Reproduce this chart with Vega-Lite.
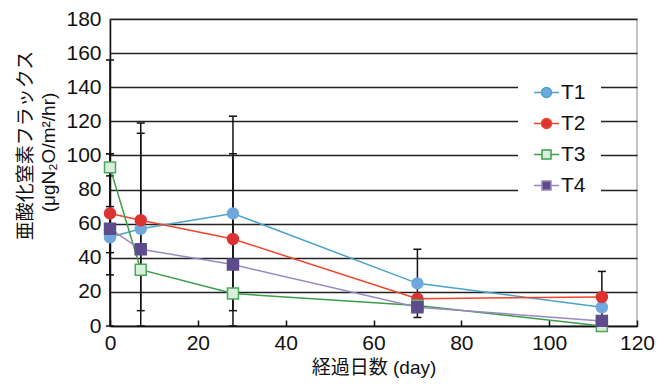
{
  "$schema": "https://vega.github.io/schema/vega-lite/v6.json",
  "width": 527,
  "height": 307,
  "autosize": {"type": "none"},
  "padding": {"left": 110, "top": 19, "right": 24, "bottom": 59},
  "background": "white",
  "title": {
    "text": "亜酸化窒素フラックス",
    "orient": "left",
    "anchor": "middle",
    "font": "Noto Sans CJK JP",
    "fontSize": 19,
    "fontWeight": "normal",
    "color": "#111",
    "offset": 3,
    "dx": 27,
    "frame": "group"
  },
  "config": {
    "view": {"stroke": "#b0b0b0", "strokeWidth": 1.5},
    "font": "Liberation Sans, Noto Sans CJK JP",
    "axis": {
      "labelFont": "Liberation Sans",
      "labelFontSize": 21,
      "labelColor": "#111",
      "labelOverlap": false,
      "titleFont": "Liberation Sans, Noto Sans CJK JP",
      "titleFontSize": 19,
      "titleFontWeight": "normal",
      "titleColor": "#111",
      "domainColor": "#111",
      "domainWidth": 1.5,
      "tickColor": "#111"
    },
    "axisY": {
      "ticks": false,
      "labelPadding": 9,
      "grid": true,
      "gridColor": "#222",
      "gridWidth": 1.5,
      "titleAngle": -90,
      "titleBaseline": "middle",
      "titleAlign": "center",
      "titleX": -62,
      "titleY": 133
    },
    "axisX": {
      "grid": false,
      "tickSize": -6,
      "tickWidth": 1.5,
      "labelPadding": 12,
      "titlePadding": 5,
      "labelFlush": false
    }
  },
  "data": {
    "values": [
      {"series": "T1", "day": 0, "value": 52, "lo": 0, "hi": 101},
      {"series": "T1", "day": 7, "value": 57, "lo": 0, "hi": 113},
      {"series": "T1", "day": 28, "value": 66, "lo": 9, "hi": 123},
      {"series": "T1", "day": 70, "value": 25, "lo": 5, "hi": 45},
      {"series": "T1", "day": 112, "value": 11, "lo": null, "hi": null},
      {"series": "T2", "day": 0, "value": 66, "lo": 30, "hi": 156},
      {"series": "T2", "day": 7, "value": 62, "lo": 9, "hi": 119},
      {"series": "T2", "day": 28, "value": 51, "lo": 0, "hi": 101},
      {"series": "T2", "day": 70, "value": 16, "lo": null, "hi": null},
      {"series": "T2", "day": 112, "value": 17, "lo": 2, "hi": 32},
      {"series": "T3", "day": 0, "value": 93, "lo": 88, "hi": 101},
      {"series": "T3", "day": 7, "value": 33, "lo": null, "hi": null},
      {"series": "T3", "day": 28, "value": 19, "lo": null, "hi": null},
      {"series": "T3", "day": 70, "value": 12, "lo": null, "hi": null},
      {"series": "T3", "day": 112, "value": 0, "lo": null, "hi": null},
      {"series": "T4", "day": 0, "value": 57, "lo": 43, "hi": 70},
      {"series": "T4", "day": 7, "value": 45, "lo": null, "hi": null},
      {"series": "T4", "day": 28, "value": 36, "lo": null, "hi": null},
      {"series": "T4", "day": 70, "value": 11, "lo": null, "hi": null},
      {"series": "T4", "day": 112, "value": 3, "lo": null, "hi": null}
    ]
  },
  "encoding": {
    "x": {
      "field": "day",
      "type": "quantitative",
      "scale": {"domain": [0, 120], "nice": false, "zero": false},
      "axis": {"title": "経過日数 (day)", "values": [0, 20, 40, 60, 80, 100, 120]}
    }
  },
  "layer": [
    {
      "transform": [{"filter": "isValid(datum.lo)"}],
      "mark": {"type": "rule", "color": "#111", "strokeWidth": 1.5},
      "encoding": {
        "y": {
          "field": "lo",
          "type": "quantitative",
          "scale": {"domain": [0, 180], "nice": false},
          "axis": {"title": "(μgN₂O/m²/hr)", "values": [0, 20, 40, 60, 80, 100, 120, 140, 160, 180]}
        },
        "y2": {"field": "hi"}
      }
    },
    {
      "transform": [{"filter": "isValid(datum.lo)"}],
      "mark": {"type": "tick", "orient": "horizontal", "color": "#111", "size": 8, "thickness": 1.5, "opacity": 1},
      "encoding": {
        "y": {"field": "lo", "type": "quantitative", "scale": {"domain": [0, 180], "nice": false}, "axis": {"title": "(μgN₂O/m²/hr)", "values": [0, 20, 40, 60, 80, 100, 120, 140, 160, 180]}}
      }
    },
    {
      "transform": [{"filter": "isValid(datum.lo)"}],
      "mark": {"type": "tick", "orient": "horizontal", "color": "#111", "size": 8, "thickness": 1.5, "opacity": 1},
      "encoding": {
        "y": {"field": "hi", "type": "quantitative", "scale": {"domain": [0, 180], "nice": false}, "axis": {"title": "(μgN₂O/m²/hr)", "values": [0, 20, 40, 60, 80, 100, 120, 140, 160, 180]}}
      }
    },
    {
      "mark": {"type": "line", "strokeWidth": 1.5},
      "encoding": {
        "y": {"field": "value", "type": "quantitative", "scale": {"domain": [0, 180], "nice": false}, "axis": {"title": "(μgN₂O/m²/hr)", "values": [0, 20, 40, 60, 80, 100, 120, 140, 160, 180]}},
        "color": {
          "field": "series",
          "type": "nominal",
          "scale": {"domain": ["T1", "T2", "T3", "T4"], "range": ["#4aa3c9", "#f0452a", "#3a9e48", "#9a88c4"]},
          "legend": {
            "orient": "none",
            "legendX": 408,
            "legendY": 45,
            "title": null,
            "fillColor": "white",
            "padding": 15,
            "labelFont": "Liberation Sans",
            "labelFontSize": 21,
            "labelColor": "#111",
            "symbolSize": 625,
            "symbolStrokeWidth": 1.5,
            "rowPadding": 7,
            "labelOffset": 1,
            "encode": {
              "symbols": {
                "update": {
                  "shape": {"signal": "indexof(['T1','T2'], datum.value) >= 0 ? 'M-1,0H-0.4M0.4,0H1M-0.4,0A0.4,0.4,0,1,1,0.4,0A0.4,0.4,0,1,1,-0.4,0Z' : 'M-1,0H-0.36M0.36,0H1M-0.36,-0.36H0.36V0.36H-0.36Z'"},
                  "fill": {"signal": "{'T1':'#6fa8dc','T2':'#dc3232','T3':'#d9eedb','T4':'#5e4b8b'}[datum.value]"},
                  "stroke": {"signal": "{'T1':'#6fa8dc','T2':'#f0452a','T3':'#3a9e48','T4':'#9a88c4'}[datum.value]"},
                  "strokeWidth": {"value": 1.5},
                  "opacity": {"value": 1}
                }
              }
            }
          }
        }
      }
    },
    {
      "transform": [{"filter": "datum.series == 'T1' || datum.series == 'T2'"}],
      "mark": {"type": "point", "shape": "circle", "filled": true, "size": 120, "strokeWidth": 1.5, "opacity": 1},
      "encoding": {
        "y": {"field": "value", "type": "quantitative", "scale": {"domain": [0, 180], "nice": false}, "axis": {"title": "(μgN₂O/m²/hr)", "values": [0, 20, 40, 60, 80, 100, 120, 140, 160, 180]}},
        "fill": {
          "field": "series",
          "type": "nominal",
          "scale": {"domain": ["T1", "T2", "T3", "T4"], "range": ["#6fa8dc", "#dc3232", "#d9eedb", "#5e4b8b"]},
          "legend": null
        },
        "stroke": {
          "field": "series",
          "type": "nominal",
          "scale": {"domain": ["T1", "T2", "T3", "T4"], "range": ["#6fa8dc", "#dc3232", "#4aa858", "#5e4b8b"]},
          "legend": null
        }
      }
    },
    {
      "transform": [{"filter": "datum.series == 'T3' || datum.series == 'T4'"}],
      "mark": {"type": "point", "shape": "square", "filled": true, "size": 120, "strokeWidth": 1.5, "opacity": 1},
      "encoding": {
        "y": {"field": "value", "type": "quantitative", "scale": {"domain": [0, 180], "nice": false}, "axis": {"title": "(μgN₂O/m²/hr)", "values": [0, 20, 40, 60, 80, 100, 120, 140, 160, 180]}},
        "fill": {
          "field": "series",
          "type": "nominal",
          "scale": {"domain": ["T1", "T2", "T3", "T4"], "range": ["#6fa8dc", "#dc3232", "#d9eedb", "#5e4b8b"]},
          "legend": null
        },
        "stroke": {
          "field": "series",
          "type": "nominal",
          "scale": {"domain": ["T1", "T2", "T3", "T4"], "range": ["#6fa8dc", "#dc3232", "#4aa858", "#5e4b8b"]},
          "legend": null
        }
      }
    }
  ]
}
